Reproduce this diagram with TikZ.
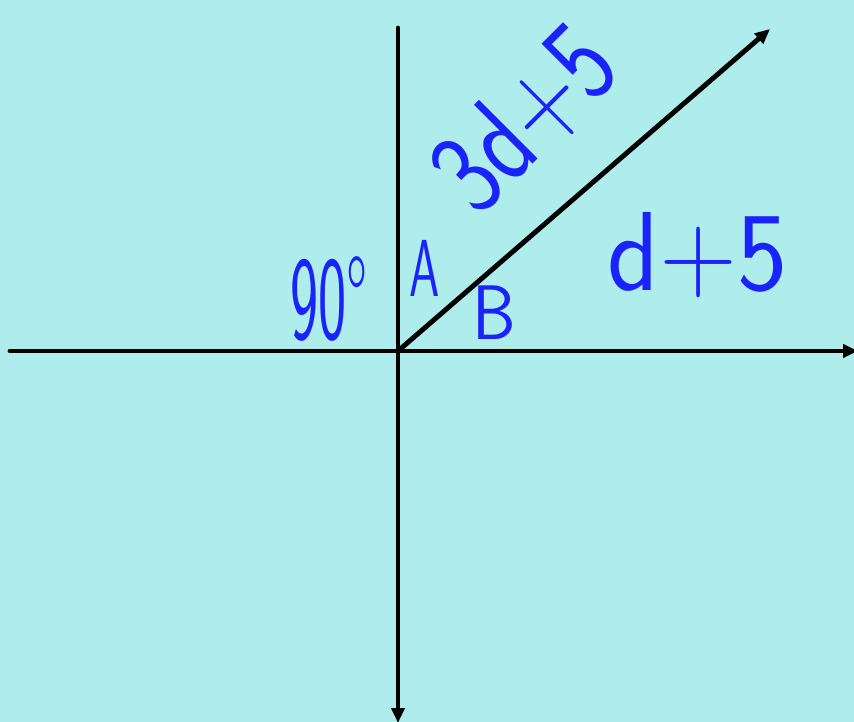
\documentclass[tikz,border=0pt]{standalone}
\usetikzlibrary{arrows.meta}
\definecolor{bgcyan}{RGB}{175,236,236}
\definecolor{penblue}{RGB}{25,35,250}
\newcommand{\squeeze}[2]{\scalebox{#1}[1]{#2}}

\begin{document}
\begin{tikzpicture}[>={Triangle[length=1.5mm,width=1.3mm]}, axis/.style={line width=1.4pt, line cap=round, ->}, pen/.style={text=penblue, font=\sffamily\fontsize{#1}{#1}\selectfont, inner sep=0pt}]
	\fill[bgcyan] (0,0) rectangle (8.54,-7.22);
	\useasboundingbox (0,0) rectangle (8.54,-7.22);
	\coordinate (O) at (3.98,-3.51);
	\coordinate (W) at (0.10,-3.51);
	\coordinate (E) at (8.58,-3.51);
	\coordinate (N) at (3.98,-0.28);
	\coordinate (S) at (3.98,-7.23);
	\coordinate (R) at (7.70,-0.29);
	\foreach \a/\b in {W/E, N/S, O/R} {\draw[axis] (\a) -- (\b);}
	\node[pen=34] (ang) at (3.29,-2.99) {\squeeze{0.5}{90°}};
	\node[pen=23] (A) at (4.25,-2.68) {\squeeze{0.6}{A}};
	\node[pen=22] (B) at (4.94,-3.13) {\squeeze{0.9}{B}};
	\node[pen=34, rotate=45] (long) at (5.25,-1.19) {\squeeze{0.8}{3d+5}};
	\node[pen=32] (short) at (6.98,-2.55) {\squeeze{0.95}{d+5}};
\end{tikzpicture}
\end{document}
